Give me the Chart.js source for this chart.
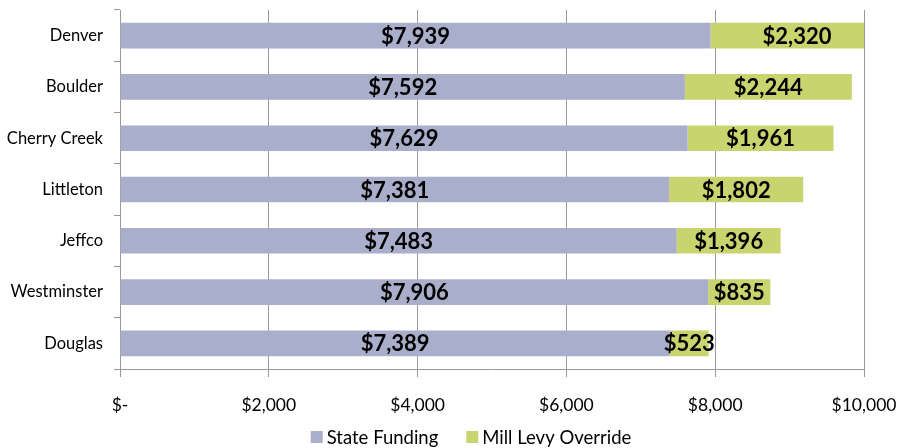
<!DOCTYPE html>
<html>
<head>
<meta charset="utf-8">
<script src="https://cdn.jsdelivr.net/npm/chart.js@4/dist/chart.umd.min.js"></script>
<style>
html,body{margin:0;padding:0;background:#fff;}
#wrap{width:907px;height:448px;}
</style>
</head>
<body>
<div id="wrap"><canvas id="c" width="907" height="448"></canvas></div>
<script>
const categories = ["Denver","Boulder","Cherry Creek","Littleton","Jeffco","Westminster","Douglas"];
const stateFunding = [7939,7592,7629,7381,7483,7906,7389];
const millLevy = [2320,2244,1961,1802,1396,835,523];
const seriesNames = ["State Funding","Mill Levy Override"];
const xTicks = [0,2000,4000,6000,8000,10000];

const FONT = "Lato, 'Open Sans', sans-serif";
const fmt = v => v === 0 ? "$-" : "$" + v.toLocaleString("en-US");

const labelPlugin = {
  id: "barLabels",
  afterDatasetsDraw(chart) {
    const ctx = chart.ctx;
    ctx.save();
    ctx.font = "bold 22px " + FONT;
    ctx.fillStyle = "#000";
    ctx.textAlign = "center";
    ctx.textBaseline = "middle";
    chart.data.datasets.forEach((ds, di) => {
      const meta = chart.getDatasetMeta(di);
      meta.data.forEach((el, i) => {
        const x = (el.x + el.base) / 2;
        ctx.fillText("$" + ds.data[i].toLocaleString("en-US"), x, el.y + 1);
      });
    });
    ctx.restore();
  }
};

const legendPlugin = {
  id: "customLegend",
  afterDraw(chart) {
    const ctx = chart.ctx;
    ctx.save();
    ctx.font = "18.5px " + FONT;
    ctx.textBaseline = "middle";
    ctx.textAlign = "left";
    const box = 12, gapText = 4, gapItem = 28;
    const items = chart.data.datasets.map(d => ({ text: d.label, color: d.backgroundColor, w: ctx.measureText(d.label).width }));
    const total = items.reduce((s, it) => s + box + gapText + it.w, 0) + gapItem * (items.length - 1);
    let x = 471 - total / 2;
    const y = 437;
    items.forEach(it => {
      ctx.fillStyle = it.color;
      ctx.fillRect(x, y - box / 2, box, box);
      x += box + gapText;
      ctx.fillStyle = "#000";
      ctx.fillText(it.text, x, y + 1);
      x += it.w + gapItem;
    });
    ctx.restore();
  }
};

new Chart(document.getElementById("c"), {
  type: "bar",
  data: {
    labels: categories,
    datasets: [
      { label: seriesNames[0], data: stateFunding, backgroundColor: "#A9AECB", barPercentage: 0.5, categoryPercentage: 1.0 },
      { label: seriesNames[1], data: millLevy, backgroundColor: "#C8D46E", barPercentage: 0.5, categoryPercentage: 1.0 }
    ]
  },
  options: {
    indexAxis: "y",
    responsive: false,
    animation: false,
    layout: { padding: { top: 10, right: 43, left: 0, bottom: 29 } },
    scales: {
      x: {
        stacked: true,
        min: 0, max: 10000,
        afterBuildTicks(axis) { axis.ticks = xTicks.map(v => ({ value: v })); },
        afterFit(axis) { axis.height = 50; axis.paddingLeft = 0; axis.paddingRight = 0; },
        grid: { color: "#999999", lineWidth: 1, tickLength: 8, drawTicks: true },
        border: { color: "#999999", width: 1 },
        ticks: { color: "#000", font: { family: FONT, size: 17.5 }, padding: 18, callback: v => fmt(v), maxRotation: 0 }
      },
      y: {
        stacked: true,
        afterFit(axis) { axis.width = 120; axis.paddingTop = 0; axis.paddingBottom = 0; },
        grid: { offset: true, drawOnChartArea: false, color: "#999999", tickLength: 6 },
        border: { color: "#999999", width: 1 },
        ticks: { color: "#000", font: { family: FONT, size: 16.5 }, padding: 11 }
      }
    },
    plugins: {
      legend: { display: false },
      tooltip: { enabled: false }
    }
  },
  plugins: [labelPlugin, legendPlugin]
});
</script>
</body>
</html>
